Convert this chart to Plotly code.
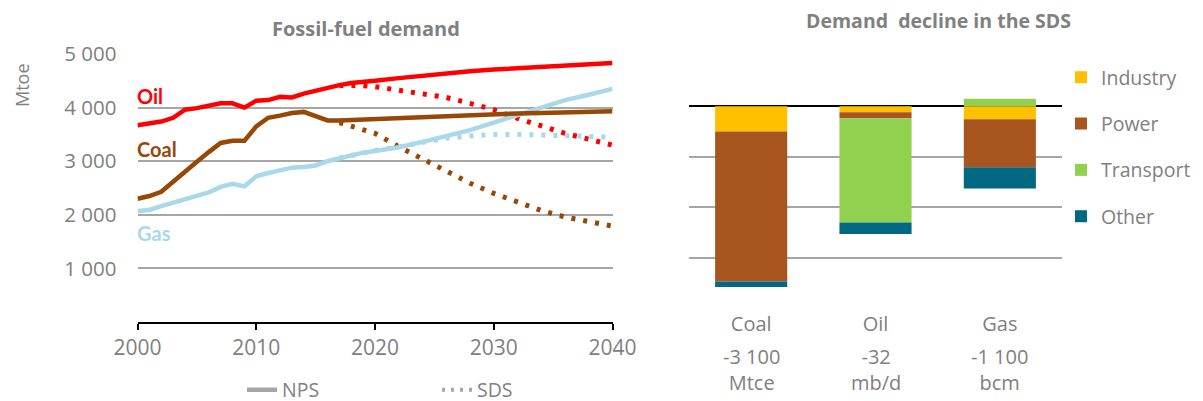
import plotly.graph_objects as go

# ---------------- data: fossil-fuel demand (Mtoe) ----------------
nps_years = list(range(2000, 2021)) + [2022, 2024, 2026, 2028, 2030, 2032, 2034, 2036, 2038, 2040]
oil_nps = [3670, 3700, 3740, 3810, 3960, 3990, 4040, 4080, 4080, 4000, 4130, 4140, 4200, 4190, 4260,
           4320, 4380, 4420, 4460, 4490, 4500, 4550, 4600, 4640, 4680, 4710, 4730, 4750, 4770, 4800, 4830]
coal_nps = [2300, 2350, 2430, 2620, 2820, 2990, 3170, 3340, 3380, 3380, 3650, 3810, 3850, 3900, 3920,
            3840, 3760, 3760, 3770, 3780, 3780, 3790, 3810, 3840, 3860, 3880, 3890, 3900, 3910, 3920, 3930]
gas_nps = [2070, 2090, 2160, 2230, 2290, 2350, 2420, 2520, 2580, 2530, 2720, 2780, 2830, 2880, 2890,
           2920, 3000, 3060, 3110, 3160, 3190, 3260, 3360, 3470, 3580, 3720, 3860, 4020, 4140, 4240, 4350]

sds_years = [2017, 2018, 2019, 2020, 2022, 2024, 2026, 2028, 2030, 2032, 2034, 2036, 2038, 2040]
oil_sds = [4410, 4420, 4410, 4390, 4330, 4270, 4190, 4080, 3960, 3800, 3650, 3520, 3410, 3300]
coal_sds = [3720, 3650, 3590, 3520, 3270, 3040, 2810, 2590, 2400, 2230, 2080, 1960, 1870, 1790]
gas_sds = [3060, 3110, 3160, 3200, 3270, 3360, 3430, 3470, 3500, 3500, 3490, 3480, 3470, 3450]

# ---------------- data: demand decline in the SDS (relative units) ----------------
fuels = ["Coal", "Oil", "Gas"]
decline_totals = ["-3 100", "-32", "-1 100"]
decline_units = ["Mtce", "mb/d", "bcm"]
sectors = ["Industry", "Power", "Transport", "Other"]
industry = [-0.50, -0.12, -0.26]
power = [-2.97, -0.12, -0.95]
transport = [0.0, -2.06, 0.15]
other = [-0.11, -0.23, -0.42]
sector_values = [industry, power, transport, other]

# ---------------- styles ----------------
W, H = 1203, 401
OFF = 8  # page body margin
GREY = "#808080"
GRID = "#A6A6A6"
FONT = "Open Sans"
fuel_colors = {"Oil": "#FF0000", "Coal": "#974706", "Gas": "#A8D8EA"}
sector_colors = ["#FFC000", "#A9551F", "#92D050", "#006880"]


def px_x(p):
    return (p - OFF) / W


def px_y(p):
    return 1 - (p - OFF) / H


fig = go.Figure()

series = [("Oil", oil_nps, oil_sds), ("Coal", coal_nps, coal_sds), ("Gas", gas_nps, gas_sds)]
# draw SDS (dotted) first, NPS on top
for name, nps, sds in series:
    fig.add_trace(go.Scatter(x=sds_years, y=sds, mode="lines", showlegend=False,
                             line=dict(color=fuel_colors[name], width=5, dash="4px,8px"),
                             xaxis="x", yaxis="y"))
for name, nps, sds in [series[2], series[1], series[0]]:
    fig.add_trace(go.Scatter(x=nps_years, y=nps, mode="lines", showlegend=False,
                             line=dict(color=fuel_colors[name], width=4.5),
                             xaxis="x", yaxis="y"))

# scenario legend entries
fig.add_trace(go.Scatter(x=[None], y=[None], mode="lines", name="NPS", legend="legend",
                         line=dict(color="#A6A6A6", width=4.5), xaxis="x", yaxis="y"))
fig.add_trace(go.Scatter(x=[None], y=[None], mode="lines", name="SDS", legend="legend",
                         line=dict(color="#A6A6A6", width=4, dash="3px,6px"), xaxis="x", yaxis="y"))

# stacked bars
for i, (sec, vals) in enumerate(zip(sectors, sector_values)):
    fig.add_trace(go.Bar(x=fuels, y=vals, name=sec, marker=dict(color=sector_colors[i], line=dict(width=0)),
                         xaxis="x2", yaxis="y2", legend="legend2", legendgroup=sec))

annotations = []
# line labels
label_y = {"Oil": 4220, "Coal": 3230, "Gas": 1660}
for name in ["Oil", "Coal", "Gas"]:
    annotations.append(dict(x=2000, y=label_y[name], xref="x", yref="y", text="<b>" + name + "</b>",
                            showarrow=False, xanchor="left", yanchor="middle", xshift=-3,
                            font=dict(family="Lato", size=20, color=fuel_colors[name])))
# titles
annotations.append(dict(x=px_x(366), y=px_y(28), xref="paper", yref="paper", text="<b>Fossil-fuel demand</b>",
                        showarrow=False, xanchor="center", yanchor="middle",
                        font=dict(family=FONT, size=20, color=GREY)))
annotations.append(dict(x=px_x(938), y=px_y(21), xref="paper", yref="paper",
                        text="<b>Demand  decline in the SDS</b>",
                        showarrow=False, xanchor="center", yanchor="middle",
                        font=dict(family=FONT, size=19.5, color=GREY)))
annotations.append(dict(x=px_x(22), y=px_y(85), xref="paper", yref="paper", text="Mtoe", textangle=-90,
                        showarrow=False, xanchor="center", yanchor="middle",
                        font=dict(family=FONT, size=18, color=GREY)))
# decline totals under categories
for f, t, u in zip(fuels, decline_totals, decline_units):
    annotations.append(dict(x=f, y=px_y(369), xref="x2", yref="paper", text=t + "<br>" + u,
                            showarrow=False, xanchor="center", yanchor="middle",
                            font=dict(family=FONT, size=20, color=GREY)))

fig.update_layout(
    width=W, height=H,
    margin=dict(l=0, r=0, t=0, b=0, autoexpand=False),
    paper_bgcolor="white", plot_bgcolor="white",
    font=dict(family=FONT, color=GREY, size=19),
    barmode="relative", bargap=0.42,
    annotations=annotations,
    xaxis=dict(domain=[px_x(137.5), px_x(612.5)], range=[2000, 2040], tickvals=[2000, 2010, 2020, 2030, 2040],
               showgrid=False, showline=True, linecolor="black", linewidth=1.5,
               ticks="outside", ticklen=6, tickcolor="black", tickwidth=1.5,
               tickfont=dict(size=21, color=GREY), anchor="y", zeroline=False, automargin=False),
    yaxis=dict(domain=[px_y(322), px_y(54)], range=[0, 5000], tickvals=[1000, 2000, 3000, 4000, 5000],
               ticktext=["1 000", "2 000", "3 000", "4 000", "5 000"],
               showgrid=True, gridcolor=GRID, gridwidth=2, zeroline=False, showline=False,
               ticks="", ticklabelstandoff=20, automargin=False,
               tickfont=dict(size=20.5, color=GREY), anchor="x"),
    xaxis2=dict(domain=[px_x(689), px_x(1062)], showgrid=False, showline=False, ticks="",
                tickfont=dict(size=20, color=GREY), anchor="y2", ticklabelstandoff=2, automargin=False),
    yaxis2=dict(domain=[px_y(308.3), px_y(55.7)], range=[-4, 1], dtick=1,
                showgrid=True, gridcolor=GRID, gridwidth=2,
                zeroline=True, zerolinecolor="black", zerolinewidth=1.5, automargin=False,
                showticklabels=False, ticks="", anchor="x2"),
    legend=dict(orientation="h", x=px_x(242), y=px_y(390), xanchor="left", yanchor="middle",
                entrywidth=150, entrywidthmode="pixels",
                font=dict(size=19.5, color=GREY), bgcolor="rgba(0,0,0,0)"),
    legend2=dict(orientation="v", x=px_x(1061), y=px_y(58), xanchor="left", yanchor="top",
                 traceorder="grouped", tracegroupgap=18, itemwidth=30,
                 font=dict(size=19.5, color=GREY), bgcolor="rgba(0,0,0,0)"),
)

fig.write_html("out.html")
